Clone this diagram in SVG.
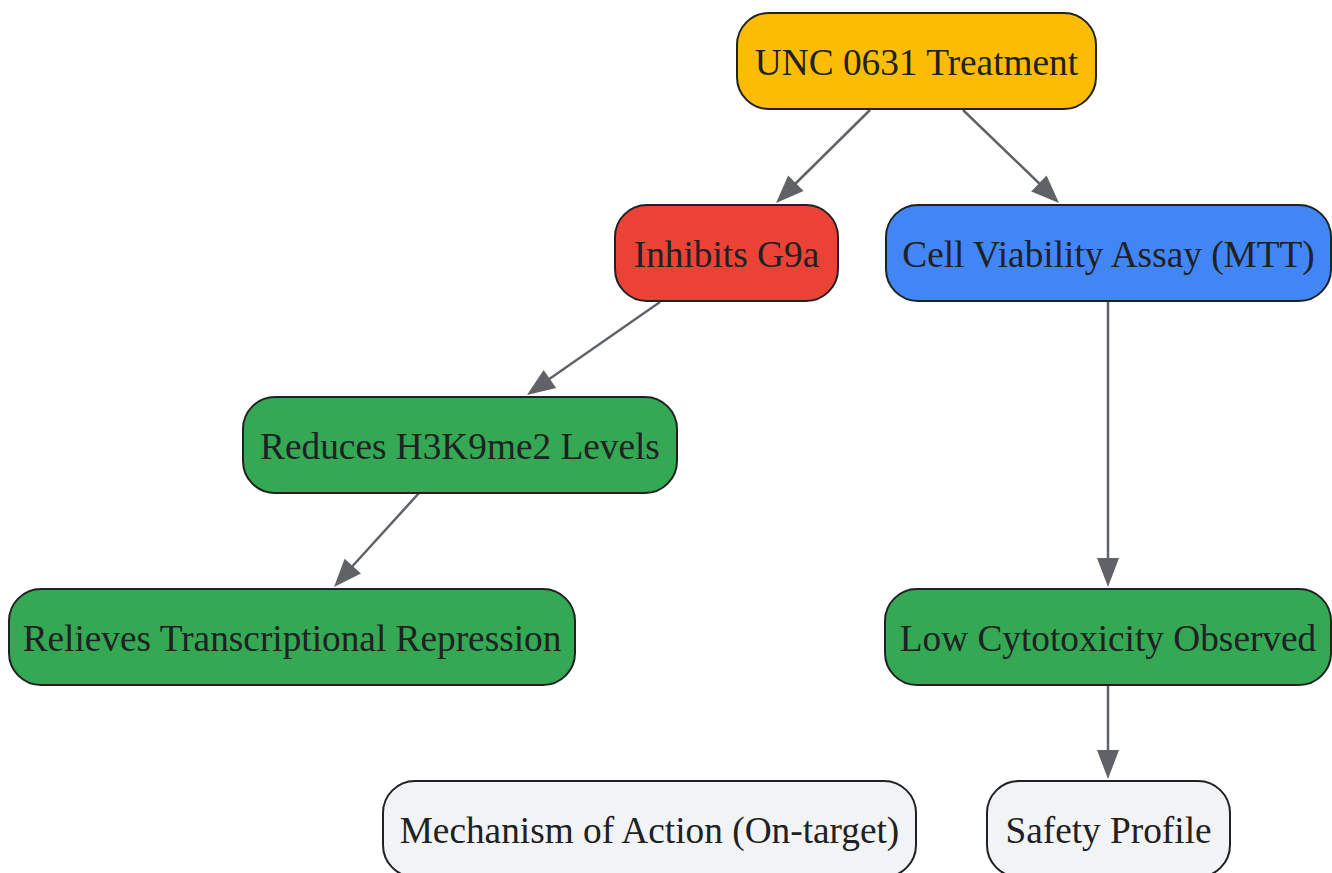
<svg xmlns="http://www.w3.org/2000/svg" width="1332" height="873" viewBox="0 0 1332 873">
<defs>
<style>
.n rect{stroke:#202124;stroke-width:2;}
.n text{font-family:"Liberation Serif","Times New Roman",serif;font-size:37.3px;fill:#202124;text-anchor:middle;}
.e path{fill:none;stroke:#5f6368;stroke-width:2.5;}
</style>
</defs>
<rect width="1332" height="873" fill="#ffffff"/>
<g id="connectors" class="e">
<path d="M870,110 L790,189"/>
<path d="M963,110 L1045,189"/>
<path d="M660,302 L545,382"/>
<path d="M419,493 L349,570"/>
<path d="M1108,302 L1108,562"/>
<path d="M1108,686 L1108,754"/>
</g>
<g id="heads" fill="#5f6368">
<polygon points="776,203 803.6,191.1 788.2,175.5"/>
<polygon points="1059,203 1031.2,191.4 1046.6,175.6"/>
<polygon points="527,395 556.2,388 543.6,370"/>
<polygon points="334,587 361,573.6 344.6,558.8"/>
<polygon points="1108,587 1097,558 1119,558"/>
<polygon points="1108,779 1097,750 1119,750"/>
</g>
<g id="n1" class="n"><rect x="737" y="13" width="359" height="96" rx="32" fill="#fbbc04"/><text x="916.5" y="74.5">UNC 0631 Treatment</text></g>
<g id="n2" class="n"><rect x="615" y="205" width="223" height="96" rx="32" fill="#ea4335"/><text x="726.5" y="266.5">Inhibits G9a</text></g>
<g id="n3" class="n"><rect x="886" y="205" width="445" height="96" rx="32" fill="#4285f4"/><text x="1108.5" y="266.5">Cell Viability Assay (MTT)</text></g>
<g id="n4" class="n"><rect x="243" y="397" width="434" height="96" rx="32" fill="#34a853"/><text x="460" y="458.5">Reduces H3K9me2 Levels</text></g>
<g id="n5" class="n"><rect x="9" y="589" width="566" height="96" rx="32" fill="#34a853"/><text x="292" y="650.5">Relieves Transcriptional Repression</text></g>
<g id="n6" class="n"><rect x="885" y="589" width="446" height="96" rx="32" fill="#34a853"/><text x="1108" y="650.5">Low Cytotoxicity Observed</text></g>
<g id="n7" class="n"><rect x="383" y="781" width="533" height="96" rx="32" fill="#f1f3f4"/><text x="649.5" y="842.5">Mechanism of Action (On-target)</text></g>
<g id="n8" class="n"><rect x="987" y="781" width="243" height="96" rx="32" fill="#f1f3f4"/><text x="1108.5" y="842.5">Safety Profile</text></g>
</svg>
